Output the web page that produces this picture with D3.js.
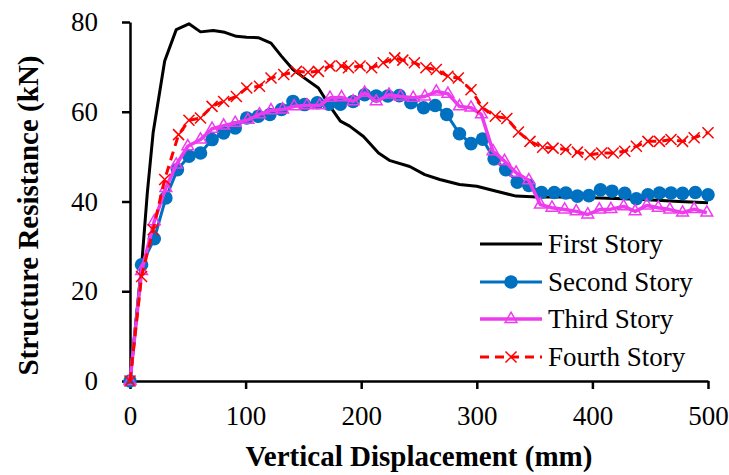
<!DOCTYPE html>
<html>
<head>
<meta charset="utf-8">
<script src="https://cdn.jsdelivr.net/npm/d3@7.9.0/dist/d3.min.js"></script>
<style>
  body { margin: 0; background: #fff; }
  svg text { font-family: "Liberation Serif", "Times New Roman", Tinos, Times, serif; }
</style>
</head>
<body>
<div id="chart"></div>
<script>
// ---- data ----
const xTicks = [0, 100, 200, 300, 400, 500];
const yTicks = [0, 20, 40, 60, 80];

const firstX = [0, 10, 15, 20, 30, 40, 51, 61, 72, 82, 92, 101, 111, 122, 131, 141, 151, 163, 173, 182, 190, 202, 215, 225, 242, 255, 268, 285, 300, 317, 334, 352, 380, 406, 440, 475, 500];
const firstY = [0, 25.5, 42, 55.3, 71.3, 78.3, 79.6, 77.8, 78.1, 77.7, 76.8, 76.6, 76.5, 75.3, 72.4, 69.4, 67.5, 65.3, 61.2, 57.9, 56.8, 54.5, 50.8, 49.1, 47.8, 46, 44.9, 43.8, 43.4, 42.3, 41.2, 41, 41, 40.8, 40.5, 40, 39.7];

const secondX = [0, 10, 21, 31, 41, 51, 61, 71, 81, 91, 101, 111, 121, 131, 141, 151, 162, 172, 182, 193, 203, 213, 223, 233, 243, 254, 264, 274, 285, 295, 305, 315, 325, 335, 345, 356, 367, 377, 387, 397, 407, 417, 428, 438, 448, 458, 468, 478, 489, 500];
const secondY = [0, 25.9, 31.7, 40.8, 47.1, 50.1, 50.8, 53.8, 55.3, 56.4, 58.6, 59, 59.4, 60.5, 62.3, 61.6, 62, 61.7, 61.7, 62.3, 63.8, 63.5, 63.5, 63.6, 62, 60.9, 61.4, 59.4, 55.1, 52.9, 53.9, 49.5, 47.1, 44.3, 43.6, 42, 42, 41.9, 41.2, 41.3, 42.6, 42.3, 41.8, 40.6, 41.5, 41.9, 41.9, 41.8, 42, 41.5];

const thirdX = [0, 10, 21, 31, 40, 50, 61, 71, 81, 91, 102, 112, 122, 132, 142, 153, 164, 173, 183, 193, 203, 213, 224, 234, 245, 255, 265, 275, 285, 295, 304, 314, 324, 334, 345, 355, 365, 376, 386, 396, 406, 416, 427, 437, 447, 457, 467, 478, 488, 499];
const thirdY = [0, 24.5, 35.6, 43, 48.2, 52.3, 53.8, 56.2, 56.9, 57.5, 58.2, 59.4, 60.3, 60.5, 61.2, 61.4, 61.4, 63.1, 63.2, 62.3, 64.2, 62.3, 63.8, 63.4, 63.1, 63.4, 64.5, 64, 61.2, 60.9, 59.4, 51.2, 49, 46.4, 44.7, 39.3, 38.6, 38.2, 37.8, 37.1, 38.2, 38.3, 38.9, 37.8, 39.1, 38.6, 38.2, 37.5, 38.3, 37.5];

const fourthX = [0, 10, 20, 30, 42, 51, 61, 71, 81, 92, 101, 112, 122, 133, 144, 154, 163, 173, 183, 189, 199, 209, 219, 229, 236, 246, 256, 265, 275, 284, 295, 305, 316, 326, 336, 346, 357, 366, 377, 387, 398, 408, 418, 428, 438, 448, 458, 468, 478, 488, 500];
const fourthY = [0, 23.3, 33.7, 44.9, 54.9, 58.1, 58.6, 61.2, 62.3, 63.4, 65.3, 65.7, 67.5, 68.3, 69, 68.8, 69, 70.2, 70.2, 69.8, 70.2, 69.8, 70.9, 72, 71.5, 70.9, 69.8, 69.4, 67.9, 67.5, 64.9, 60.9, 59, 58.5, 55.5, 53.4, 52.1, 51.9, 51.6, 51, 50.4, 50.8, 50.8, 51.2, 52.3, 53.4, 53.4, 53.8, 53.4, 54.2, 55.3];

const seriesNames = ['First Story', 'Second Story', 'Third Story', 'Fourth Story'];

// ---- layout ----
const width = 729;
const height = 475;
const plotLeft = 130, plotRight = 708, plotTop = 22, plotBottom = 381;
const serif = '"Liberation Serif", "Times New Roman", serif';

const zip = (xs, ys) => xs.map((x, i) => ({ x, y: ys[i] }));
const series = [
  { name: seriesNames[0], data: zip(firstX, firstY), color: '#000000', width: 3, dash: null, marker: null },
  { name: seriesNames[1], data: zip(secondX, secondY), color: '#0070C0', width: 3, dash: null, marker: 'circle' },
  { name: seriesNames[2], data: zip(thirdX, thirdY), color: '#EE3BEE', width: 3.5, dash: null, marker: 'triangle' },
  { name: seriesNames[3], data: zip(fourthX, fourthY), color: '#FF0000', width: 3, dash: '9,6', marker: 'cross' },
];

const svg = d3.select('#chart')
  .append('svg')
  .attr('width', width)
  .attr('height', height)
  .style('display', 'block');

const x = d3.scaleLinear().domain([0, 500]).range([plotLeft, plotRight]);
const y = d3.scaleLinear().domain([0, 80]).range([plotBottom, plotTop]);

// ---- axes ----
const xAxis = svg.append('g')
  .attr('transform', `translate(0,${plotBottom})`)
  .call(d3.axisBottom(x).tickValues(xTicks).tickSize(8).tickSizeOuter(0).tickPadding(16));
const yAxis = svg.append('g')
  .attr('transform', `translate(${plotLeft},0)`)
  .call(d3.axisLeft(y).tickValues(yTicks).tickSize(8).tickSizeOuter(0).tickPadding(24));

[xAxis, yAxis].forEach((g) => {
  g.attr('font-family', serif).attr('font-size', 27);
  g.select('.domain').attr('stroke', '#000').attr('stroke-width', 2.5);
  g.selectAll('.tick line').attr('stroke', '#000').attr('stroke-width', 2.5);
  g.selectAll('.tick text')
    .attr('fill', '#000')
    .style('font-family', serif)
    .style('font-size', '27px');
});
xAxis.selectAll('.tick text').attr('dy', '0.75em');

// axis titles
svg.append('text')
  .attr('x', (plotLeft + plotRight) / 2)
  .attr('y', 466)
  .attr('text-anchor', 'middle')
  .attr('font-weight', 'bold')
  .attr('font-size', 29)
  .text('Vertical Displacement (mm)');

svg.append('text')
  .attr('transform', `translate(38,${(plotTop + plotBottom) / 2 + 14}) rotate(-90)`)
  .attr('text-anchor', 'middle')
  .attr('font-weight', 'bold')
  .attr('font-size', 29)
  .text('Structure Resistance (kN)');

// ---- lines and markers ----
const line = d3.line().x((d) => x(d.x)).y((d) => y(d.y));

function drawMarker(g, kind, color) {
  if (kind === 'circle') {
    g.append('circle').attr('r', 6.8).attr('fill', color);
  } else if (kind === 'triangle') {
    g.append('path')
      .attr('d', d3.symbol(d3.symbolTriangle, 60)())
      .attr('fill', 'none')
      .attr('stroke', color).attr('stroke-width', 1.5);
  } else if (kind === 'cross') {
    g.append('path')
      .attr('d', 'M-5.5,-5.5L5.5,5.5M-5.5,5.5L5.5,-5.5')
      .attr('stroke', color).attr('stroke-width', 1.5).attr('fill', 'none');
  }
}

series.forEach((s) => {
  const g = svg.append('g');
  g.append('path')
    .datum(s.data)
    .attr('d', line)
    .attr('fill', 'none')
    .attr('stroke', s.color)
    .attr('stroke-width', s.width)
    .attr('stroke-dasharray', s.dash)
    .attr('stroke-linejoin', 'round');
  if (s.marker) {
    g.selectAll('g.m')
      .data(s.data)
      .join('g')
      .attr('class', 'm')
      .attr('transform', (d) => `translate(${x(d.x)},${y(d.y)})`)
      .each(function () { drawMarker(d3.select(this), s.marker, s.color); });
  }
});

// ---- legend ----
const legend = svg.append('g');
const rowY = [244, 282, 319, 357];
series.forEach((s, i) => {
  const row = legend.append('g').attr('transform', `translate(480,${rowY[i]})`);
  row.append('line')
    .attr('x1', 0).attr('x2', 62)
    .attr('stroke', s.color)
    .attr('stroke-width', s.width)
    .attr('stroke-dasharray', s.dash);
  if (s.marker) drawMarker(row.append('g').attr('transform', 'translate(31,0)'), s.marker, s.color);
  row.append('text')
    .attr('x', 68)
    .attr('dy', '0.35em')
    .attr('font-size', 27)
    .text(s.name);
});
</script>
</body>
</html>
